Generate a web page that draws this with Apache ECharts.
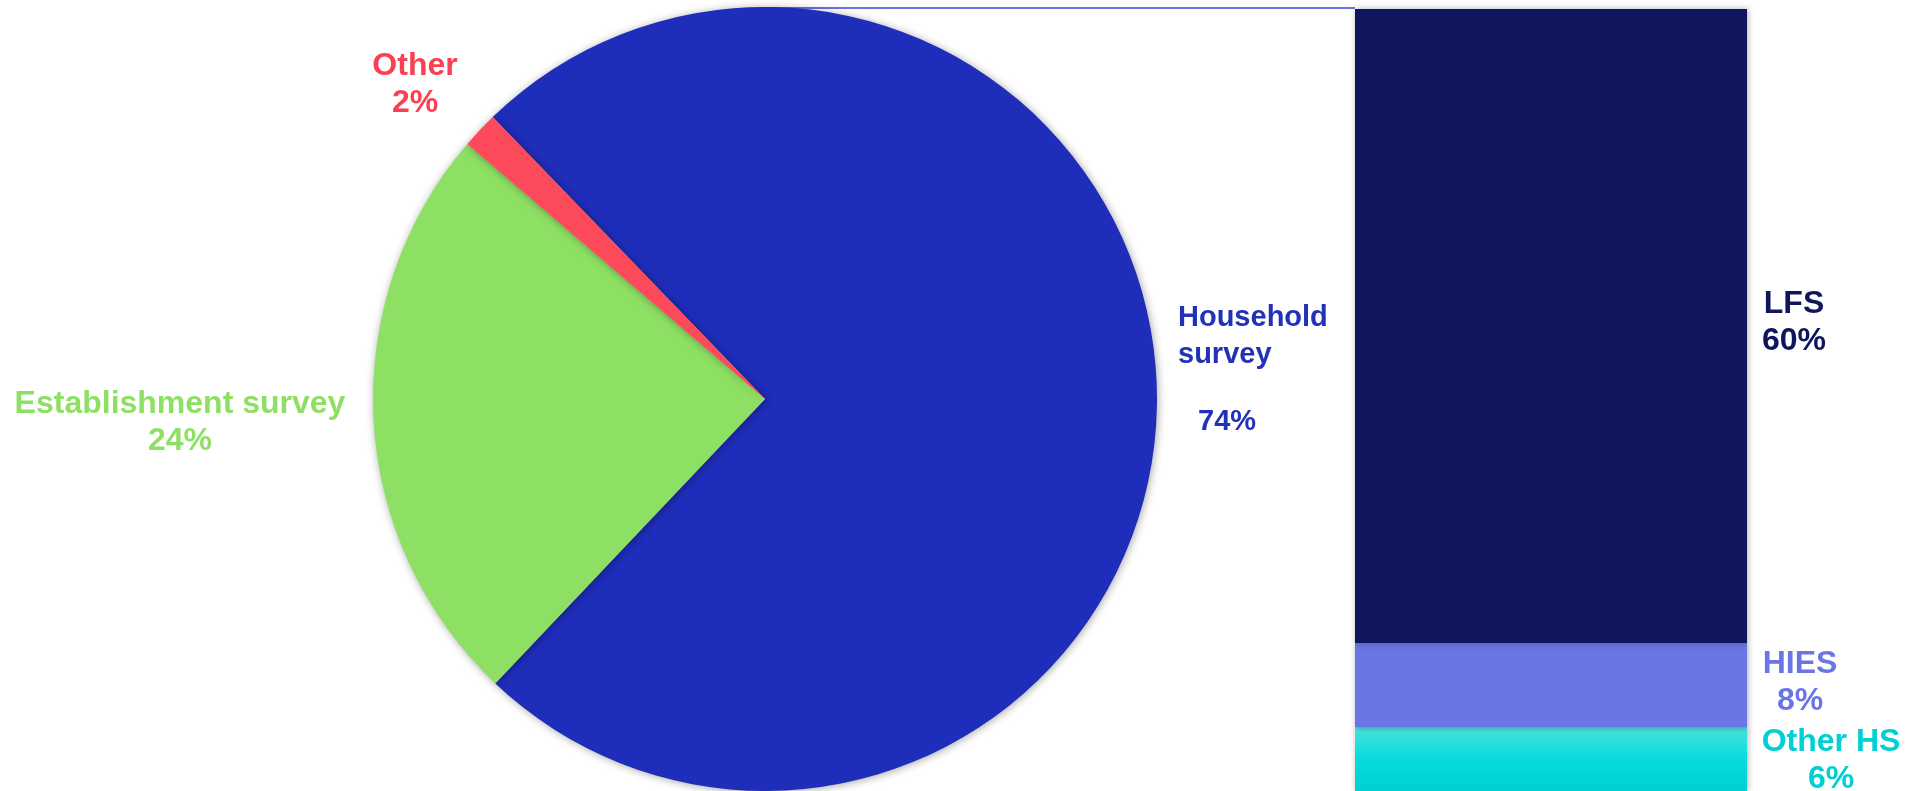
<!DOCTYPE html>
<html>
<head>
<meta charset="utf-8">
<script src="https://cdn.jsdelivr.net/npm/echarts@6/dist/echarts.min.js"></script>
<style>
html,body{margin:0;padding:0;background:#fff;}
#c{width:1907px;height:791px;}
</style>
</head>
<body>
<div id="c"></div>
<script>
// ---- data ----
const pieNames = ['Household survey', 'Establishment survey', 'Other'];
const pieValues = [74.3, 24.2, 1.5];
const pieLabels = ['74%', '24%', '2%'];
const barNames = ['LFS', 'HIES', 'Other HS'];
const barValues = [60, 8, 6];
const barLabels = ['60%', '8%', '6%'];

// ---- styles / layout (not data) ----
const pieColors = ['#1f2dbb', '#8ee064', '#fd4a5a'];
const pieTextColors = ['#2232b8', '#8ee064', '#fc4054'];
const barColors = ['#10165e', '#6a75e6', {
  type: 'linear', x: 0, y: 0, x2: 0, y2: 1,
  colorStops: [{offset: 0, color: '#48e3de'}, {offset: 0.5, color: '#06dcdc'}, {offset: 1, color: '#00cfd3'}]
}];
const barTextColors = ['#10165e', '#6a75e6', '#00d0d4'];
const pieLabelLayout = [
  {x: 1178, y: 299.5, align: 'left', verticalAlign: 'top'},
  {x: 180, y: 423, align: 'center', verticalAlign: 'middle'},
  {x: 415, y: 85, align: 'center', verticalAlign: 'middle'}
];
const barLabelLayout = [
  {x: 1794, y: 323, align: 'center', verticalAlign: 'middle'},
  {x: 1800, y: 683, align: 'center', verticalAlign: 'middle'},
  {x: 1831, y: 761, align: 'center', verticalAlign: 'middle'}
];
const FONT = '"Liberation Sans", Arial, sans-serif';
const FS = 32;

const chart = echarts.init(document.getElementById('c'), null, {renderer: 'canvas'});

const pieData = pieNames.map((n, i) => {
  let label;
  if (i === 0) {
    label = {
      formatter: '{n|Household}\n{n|survey}\n{g|}\n{p|' + pieLabels[i] + '}',
      rich: {
        n: {fontSize: 29, fontWeight: 'bold', color: pieTextColors[i], lineHeight: 37, fontFamily: FONT},
        g: {lineHeight: 30, fontSize: 10},
        p: {fontSize: 29, fontWeight: 'bold', color: pieTextColors[i], lineHeight: 37, padding: [0, 0, 0, 20], fontFamily: FONT}
      }
    };
  } else {
    label = {
      formatter: n + '\n' + pieLabels[i],
      color: pieTextColors[i], fontSize: FS, fontWeight: 'bold', lineHeight: 37, fontFamily: FONT, align: 'center',
      overflow: 'none', width: 400
    };
  }
  return {name: n, value: pieValues[i], itemStyle: {color: pieColors[i]}, label: label};
});

// stack bottom-up: Other HS, HIES, LFS
const barSeries = [2, 1, 0].map(i => ({
  name: barNames[i],
  type: 'bar',
  stack: 'hs',
  barWidth: '100%',
  data: [barValues[i]],
  itemStyle: {color: barColors[i], shadowBlur: 6, shadowColor: 'rgba(0,0,0,0.3)', shadowOffsetX: 1},
  label: {
    show: true,
    formatter: barNames[i] + '\n' + barLabels[i],
    color: barTextColors[i], fontSize: FS, fontWeight: 'bold', lineHeight: 37, fontFamily: FONT,
    align: 'center'
  },
  labelLayout: function () { return barLabelLayout[i]; },
  z: 3
}));

chart.setOption({
  animation: false,
  backgroundColor: '#ffffff',
  grid: {left: 1355, right: 160, top: 9, bottom: 0},
  xAxis: {type: 'category', data: ['HS'], show: false},
  yAxis: {type: 'value', min: 0, max: 74, show: false},
  graphic: [{
    type: 'line', z: 1,
    shape: {x1: 766, y1: 8, x2: 1355, y2: 8},
    style: {stroke: '#6b73e0', lineWidth: 2}
  }],
  series: [{
    type: 'pie',
    center: [765, 399],
    radius: 392,
    startAngle: 134,
    clockwise: true,
    data: pieData,
    label: {show: true, position: 'outside'},
    labelLine: {show: false},
    labelLayout: function (p) { return pieLabelLayout[p.dataIndex]; },
    itemStyle: {shadowBlur: 8, shadowColor: 'rgba(0,0,0,0.35)', shadowOffsetX: 1, shadowOffsetY: 1},
    emphasis: {disabled: true},
    z: 2
  }].concat(barSeries)
});
</script>
</body>
</html>
